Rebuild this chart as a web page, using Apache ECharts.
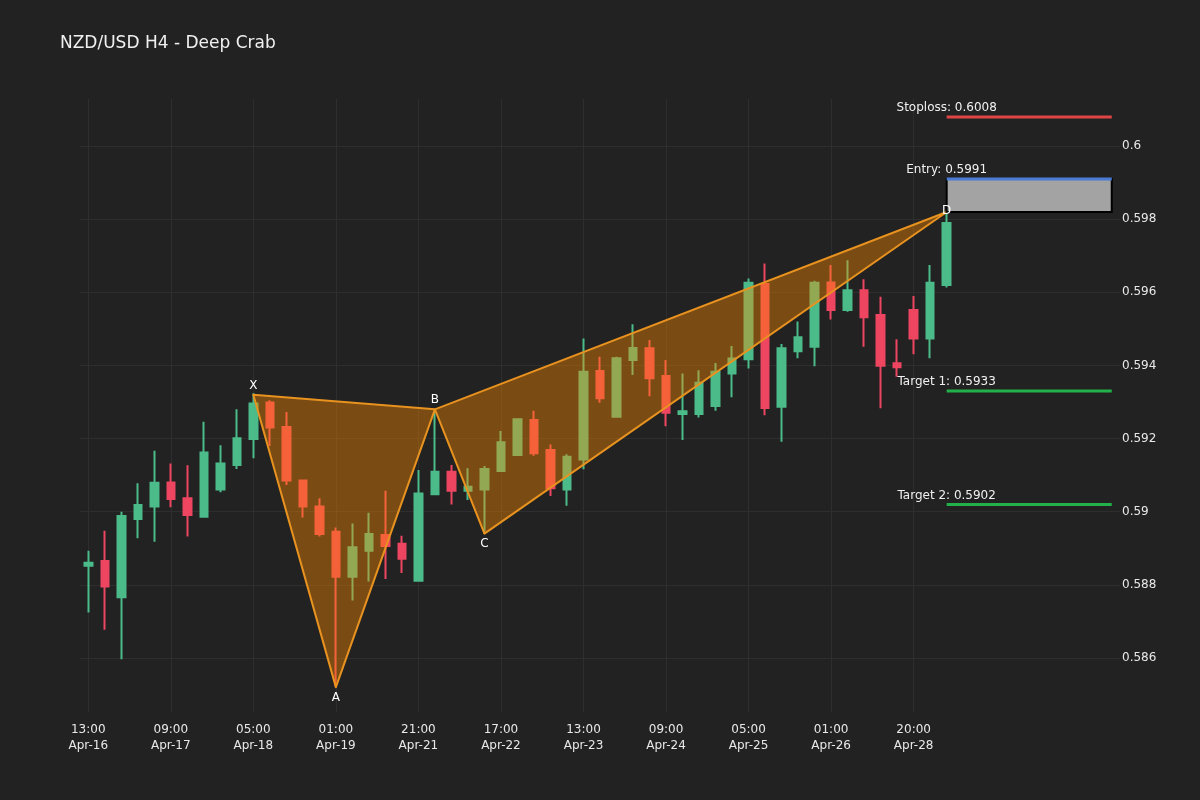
<!DOCTYPE html>
<html><head><meta charset="utf-8">
<script src="https://cdn.jsdelivr.net/npm/echarts@6/dist/echarts.min.js"></script>
<style>html,body{margin:0;padding:0;background:#222222;}#c{width:1200px;height:800px;}</style>
</head><body><div id="c"></div>
<script>
// ---- data ----
const categories = [
 "13:00\nApr-16","17:00\nApr-16","21:00\nApr-16","01:00\nApr-17","05:00\nApr-17",
 "09:00\nApr-17","13:00\nApr-17","17:00\nApr-17","21:00\nApr-17","01:00\nApr-18",
 "05:00\nApr-18","09:00\nApr-18","13:00\nApr-18","17:00\nApr-18","21:00\nApr-18",
 "01:00\nApr-19","05:00\nApr-19","09:00\nApr-19","13:00\nApr-19","17:00\nApr-19",
 "21:00\nApr-21","01:00\nApr-22","05:00\nApr-22","09:00\nApr-22","13:00\nApr-22",
 "17:00\nApr-22","21:00\nApr-22","01:00\nApr-23","05:00\nApr-23","09:00\nApr-23",
 "13:00\nApr-23","17:00\nApr-23","21:00\nApr-23","01:00\nApr-24","05:00\nApr-24",
 "09:00\nApr-24","13:00\nApr-24","17:00\nApr-24","21:00\nApr-24","01:00\nApr-25",
 "05:00\nApr-25","09:00\nApr-25","13:00\nApr-25","17:00\nApr-25","21:00\nApr-25",
 "01:00\nApr-26","05:00\nApr-26","09:00\nApr-26","13:00\nApr-26","16:00\nApr-26",
 "20:00\nApr-28","00:00\nApr-29","04:00\nApr-29"
];
const opens  = [0.58852,0.58865,0.58766,0.58980,0.59014,0.59080,0.59037,0.58986,0.59061,0.59128,
                0.59199,0.59299,0.59232,0.59085,0.59014,0.58945,0.58822,0.58893,0.58936,0.58912,
                0.58811,0.59048,0.59109,0.59057,0.59061,0.59111,0.59155,0.59251,0.59169,0.59061,
                0.59143,0.59385,0.59260,0.59415,0.59447,0.59371,0.59267,0.59267,0.59289,0.59378,
                0.59417,0.59623,0.59287,0.59439,0.59451,0.59627,0.59552,0.59606,0.59538,0.59406,
                0.59552,0.59474,0.59620];
const closes = [0.58860,0.58795,0.58988,0.59018,0.59079,0.59035,0.58991,0.59162,0.59132,0.59201,
                0.59296,0.59230,0.59085,0.59014,0.58939,0.58822,0.58903,0.58939,0.58906,0.58871,
                0.59050,0.59109,0.59057,0.59068,0.59117,0.59190,0.59253,0.59160,0.59064,0.59150,
                0.59383,0.59310,0.59420,0.59448,0.59365,0.59271,0.59275,0.59353,0.59383,0.59419,
                0.59626,0.59284,0.59447,0.59477,0.59626,0.59552,0.59606,0.59532,0.59399,0.59395,
                0.59474,0.59626,0.59790];
const lows   = [0.58724,0.58677,0.58596,0.58927,0.58918,0.59012,0.58932,0.58984,0.59053,0.59117,
                0.59146,0.59180,0.59073,0.58984,0.58932,0.58522,0.58757,0.58809,0.58816,0.58832,
                0.58811,0.59048,0.59020,0.59032,0.58939,0.59111,0.59155,0.59153,0.59043,0.59016,
                0.59116,0.59298,0.59260,0.59374,0.59316,0.59234,0.59196,0.59258,0.59276,0.59313,
                0.59392,0.59264,0.59191,0.59420,0.59398,0.59526,0.59547,0.59451,0.59283,0.59369,
                0.59431,0.59420,0.59613];
const highs  = [0.58893,0.58948,0.59000,0.59078,0.59167,0.59132,0.59127,0.59246,0.59182,0.59280,
                0.59324,0.59305,0.59273,0.59085,0.59037,0.58957,0.58968,0.58997,0.59057,0.58934,
                0.59114,0.59278,0.59128,0.59119,0.59125,0.59221,0.59253,0.59276,0.59184,0.59157,
                0.59474,0.59424,0.59424,0.59513,0.59470,0.59415,0.59378,0.59387,0.59407,0.59453,
                0.59638,0.59679,0.59459,0.59520,0.59632,0.59675,0.59688,0.59636,0.59588,0.59472,
                0.59590,0.59675,0.59820];
const padCategories = ["_p1","_p2","_p3","_p4","_p5","_p6","_p7","_p8","_p9","_p10"];
const yTicks = [0.586, 0.588, 0.59, 0.592, 0.594, 0.596, 0.598, 0.6];
const yMin = 0.58452, yMax = 0.60129;

const patternLabels = ["X","A","B","C","D"];
const patternIdx    = [10, 15, 21, 24, 52];
const patternPrices = [0.5932, 0.5852, 0.5928, 0.5894, 0.5982];

const levelNames  = ["Stoploss","Entry","Target 1","Target 2"];
const levelValues = [0.6008, 0.5991, 0.5933, 0.5902];
const levelStartIdx = 52, levelEndIdx = 62;
const entryZoneTop = 0.5991, entryZoneBottom = 0.5982;

const titleText = "NZD/USD H4 - Deep Crab";

// ---- styles ----
const FONT = "DejaVu Sans";
const UP = "#4cbb8a", DOWN = "#ee4560";
const levelColors = ["#e04545", "#4a7bd6", "#22b04a", "#22b04a"];
const labelOffsets = {X: -9, A: 11, B: -9, C: 10, D: -1};

const xCats = categories.concat(padCategories);
const ohlc = opens.map((o, i) => [o, closes[i], lows[i], highs[i]]);
const isTickCat = (idx, val) => idx % 5 === 0 && !String(val).startsWith('_');

const triangles = [
  [patternIdx[0], patternPrices[0], patternIdx[1], patternPrices[1], patternIdx[2], patternPrices[2]],
  [patternIdx[2], patternPrices[2], patternIdx[3], patternPrices[3], patternIdx[4], patternPrices[4]]
];

const chart = echarts.init(document.getElementById('c'), null, {renderer: 'canvas'});
chart.setOption({
  backgroundColor: '#222222',
  animation: false,
  title: {
    text: titleText, left: 60, top: 35, padding: 0,
    textStyle: {color: '#f0f0f0', fontSize: 17, fontWeight: 'normal', fontFamily: FONT}
  },
  grid: {left: 80, right: 80, top: 99, bottom: 88, containLabel: false},
  xAxis: {
    type: 'category', data: xCats, boundaryGap: true,
    axisLine: {show: false},
    axisTick: {show: false, alignWithLabel: true, interval: isTickCat},
    axisLabel: {
      interval: isTickCat, color: '#e8e8e8', fontSize: 12, fontFamily: FONT, lineHeight: 16, margin: 10,
      formatter: v => v.startsWith('_') ? '' : v
    },
    splitLine: {show: true, interval: isTickCat, alignWithLabel: true, lineStyle: {color: '#2e2e2e', width: 1}}
  },
  yAxis: {
    type: 'value', position: 'right', min: yMin, max: yMax, scale: true,
    axisLine: {show: false},
    axisTick: {show: false, customValues: yTicks},
    axisLabel: {customValues: yTicks, color: '#e8e8e8', fontSize: 12, fontFamily: FONT, margin: 2},
    splitLine: {show: true, lineStyle: {color: '#2e2e2e', width: 1}}
  },
  series: [
    {
      type: 'candlestick', data: ohlc, barWidth: 8, z: 2,
      itemStyle: {color: UP, color0: DOWN, borderColor: UP, borderColor0: DOWN, borderWidth: 2}
    },
    {
      type: 'custom', z: 3, clip: false,
      data: triangles,
      encode: {x: [0, 2, 4], y: [1, 3, 5]},
      renderItem: (params, api) => {
        const pts = [0, 1, 2].map(k => api.coord([api.value(2 * k), api.value(2 * k + 1)]));
        return {
          type: 'polygon',
          shape: {points: pts},
          style: {fill: 'rgba(255,140,0,0.4)', stroke: '#e8921f', lineWidth: 2, lineJoin: 'round'}
        };
      }
    },
    {
      type: 'custom', z: 5, clip: false,
      data: patternIdx.map((ix, i) => [ix, patternPrices[i], i]),
      encode: {x: 0, y: 1},
      renderItem: (params, api) => {
        const p = api.coord([api.value(0), api.value(1)]);
        const lab = patternLabels[api.value(2)];
        return {
          type: 'text',
          style: {
            text: lab, x: p[0], y: p[1] + labelOffsets[lab],
            align: 'center', verticalAlign: 'middle',
            fill: '#ffffff', fontSize: 12, fontFamily: FONT
          }
        };
      }
    },
    {
      type: 'custom', z: 4, clip: false,
      data: [[levelStartIdx, entryZoneTop, levelEndIdx, entryZoneBottom]],
      encode: {x: [0, 2], y: [1, 3]},
      renderItem: (params, api) => {
        const a = api.coord([api.value(0), api.value(1)]);
        const b = api.coord([api.value(2), api.value(3)]);
        return {
          type: 'rect',
          shape: {x: a[0], y: a[1], width: b[0] - a[0], height: b[1] - a[1]},
          style: {fill: '#a3a3a3', stroke: '#000000', lineWidth: 2}
        };
      }
    },
    {
      type: 'custom', z: 6, clip: false,
      data: levelValues.map((v, i) => [levelStartIdx, v, levelEndIdx, i]),
      encode: {x: [0, 2], y: 1},
      renderItem: (params, api) => {
        const i = api.value(3);
        const a = api.coord([api.value(0), api.value(1)]);
        const b = api.coord([api.value(2), api.value(1)]);
        return {
          type: 'group',
          children: [
            {type: 'line', shape: {x1: a[0], y1: a[1], x2: b[0], y2: b[1]},
             style: {stroke: levelColors[i], lineWidth: 3}},
            {type: 'text', style: {
              text: levelNames[i] + ': ' + levelValues[i].toFixed(4),
              x: a[0], y: a[1] - 9, align: 'center', verticalAlign: 'middle',
              fill: '#f0f0f0', fontSize: 12, fontFamily: FONT}}
          ]
        };
      }
    }
  ]
});
</script>
</body></html>
